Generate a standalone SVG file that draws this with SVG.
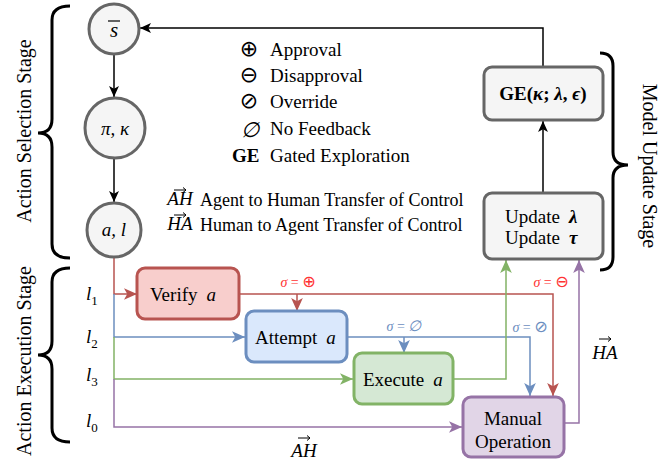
<svg xmlns="http://www.w3.org/2000/svg" width="672" height="465" viewBox="0 0 672 465" font-family="'Liberation Serif','Times New Roman',serif">
<style>
text{font-family:"Liberation Serif","Times New Roman",serif;fill:#000}
.t19{font-size:19px}
.t18{font-size:18px}
.it{font-style:italic}
.bd{font-weight:bold}
.sym{font-family:"DejaVu Sans",sans-serif;font-size:22px}
.node{fill:#f5f5f5;stroke:#666;stroke-width:3}
.ln{fill:none;stroke-width:1.5}
.k{stroke:#000}
.r{stroke:#b85450}
.b{stroke:#6c8ebf}
.g{stroke:#82b366}
.p{stroke:#9673a6}
.brace{fill:none;stroke:#000;stroke-width:3}
.sig{font-size:14px;font-style:italic}
.ss{font-style:normal;font-family:"DejaVu Sans",sans-serif;font-size:16px}
.vec{fill:none;stroke:#000;stroke-width:1}
</style>
<defs>
<marker id="mk" viewBox="0 0 10 10" refX="10" refY="5" markerWidth="11" markerHeight="11" orient="auto" markerUnits="userSpaceOnUse"><path d="M0,0.5 L10,5 L0,9.5 L2.5,5 z" fill="#000"/></marker>
<marker id="mr" viewBox="0 0 10 10" refX="10" refY="5" markerWidth="13" markerHeight="13" orient="auto" markerUnits="userSpaceOnUse"><path d="M0,0.5 L10,5 L0,9.5 L2.5,5 z" fill="#b85450"/></marker>
<marker id="mb" viewBox="0 0 10 10" refX="10" refY="5" markerWidth="13" markerHeight="13" orient="auto" markerUnits="userSpaceOnUse"><path d="M0,0.5 L10,5 L0,9.5 L2.5,5 z" fill="#6c8ebf"/></marker>
<marker id="mg" viewBox="0 0 10 10" refX="10" refY="5" markerWidth="13" markerHeight="13" orient="auto" markerUnits="userSpaceOnUse"><path d="M0,0.5 L10,5 L0,9.5 L2.5,5 z" fill="#82b366"/></marker>
<marker id="mp" viewBox="0 0 10 10" refX="10" refY="5" markerWidth="13" markerHeight="13" orient="auto" markerUnits="userSpaceOnUse"><path d="M0,0.5 L10,5 L0,9.5 L2.5,5 z" fill="#9673a6"/></marker>
</defs>

<!-- braces and stage labels -->
<path class="brace" d="M70,6 Q52,6 52,20 V119 Q52,133 38,133 Q52,133 52,147 V244 Q52,258 70,258"/>
<path class="brace" d="M70,268 Q52,268 52,282 V341 Q52,355 38,355 Q52,355 52,369 V428 Q52,442 70,442"/>
<path class="brace" d="M600,53 Q613,53 613,66 V152 Q613,165 628,165 Q613,165 613,178 V257 Q613,270 600,270"/>
<text style="font-size:20px" text-anchor="middle" transform="translate(31,131) rotate(-90)">Action Selection Stage</text>
<text style="font-size:20px" text-anchor="middle" transform="translate(31,361) rotate(-90)">Action Execution Stage</text>
<text style="font-size:20px" text-anchor="middle" transform="translate(643,166) rotate(90)">Model Update Stage</text>

<!-- connectors -->
<g id="connectors">
<path class="ln k" d="M114,54 V97" marker-end="url(#mk)"/>
<path class="ln k" d="M114,158 V202" marker-end="url(#mk)"/>
<path class="ln k" d="M543,193 V121" marker-end="url(#mk)"/>
<path class="ln k" d="M543,67 V28 H140" marker-end="url(#mk)"/>
<path class="ln r" d="M114,257 V294 H137" marker-end="url(#mr)"/>
<path class="ln b" d="M114,294 V337 H245" marker-end="url(#mb)"/>
<path class="ln g" d="M114,337 V379 H353" marker-end="url(#mg)"/>
<path class="ln p" d="M114,379 V427 H462" marker-end="url(#mp)"/>
<path class="ln r" d="M239,294 H553 V396" marker-end="url(#mr)"/>
<path class="ln r" d="M297,294 V311" marker-end="url(#mr)"/>
<path class="ln b" d="M347,337 H530 V396" marker-end="url(#mb)"/>
<path class="ln b" d="M404,337 V353" marker-end="url(#mb)"/>
<path class="ln g" d="M453,379 H506 V260" marker-end="url(#mg)"/>
<path class="ln p" d="M564,423 H579 V260" marker-end="url(#mp)"/>
<text class="sig" x="298" y="287" text-anchor="middle" style="fill:#ff3333">σ <tspan style="font-style:normal">=</tspan> <tspan class="ss" style="fill:#ff3333">⊕</tspan></text>
<text class="sig" x="551" y="287" text-anchor="middle" style="fill:#ff3333">σ <tspan style="font-style:normal">=</tspan> <tspan class="ss" style="fill:#ff3333">⊖</tspan></text>
<text class="sig" x="404" y="331" text-anchor="middle" style="fill:#6c8ebf">σ <tspan style="font-style:normal">=</tspan> <tspan style="font-size:15px">∅</tspan></text>
<text class="sig" x="530" y="332" text-anchor="middle" style="fill:#6c8ebf">σ <tspan style="font-style:normal">=</tspan> <tspan class="ss" style="fill:#6c8ebf">⊘</tspan></text>
<path class="vec" d="M298,438 H310 M307,435.5 L310,438 L307,440.5"/>
<text class="t19 it" x="304" y="457" text-anchor="middle">AH</text>
<path class="vec" d="M599,339 H611 M608,336.5 L611,339 L608,341.5"/>
<text class="t19 it" x="605" y="359" text-anchor="middle">HA</text>
</g>

<!-- nodes -->
<g id="node-s">
<circle class="node" cx="114" cy="29" r="25"/>
<text class="t19 it" x="114" y="37" text-anchor="middle" style="font-size:21px">s</text>
<line x1="108" y1="21" x2="120" y2="21" stroke="#000" stroke-width="1.2"/>
</g>
<g id="node-pi">
<circle class="node" cx="115" cy="128" r="30"/>
<text class="t19 it" x="115" y="135" text-anchor="middle">π, κ</text>
</g>
<g id="node-al">
<circle class="node" cx="114" cy="230" r="27"/>
<text class="t19 it" x="114" y="236" text-anchor="middle">a, l</text>
</g>
<g id="node-verify">
<rect x="137" y="268" width="102" height="51" rx="8" fill="#f8cecc" stroke="#b85450" stroke-width="3"/>
<text class="t19" x="150" y="301">Verify<tspan class="it" dx="9">a</tspan></text>
</g>
<g id="node-attempt">
<rect x="246" y="311" width="101" height="51" rx="8" fill="#dae8fc" stroke="#6c8ebf" stroke-width="3"/>
<text class="t19" x="255" y="344">Attempt<tspan class="it" dx="9">a</tspan></text>
</g>
<g id="node-execute">
<rect x="354" y="353" width="99" height="51" rx="8" fill="#d5e8d4" stroke="#82b366" stroke-width="3"/>
<text class="t19" x="363" y="386">Execute<tspan class="it" dx="9">a</tspan></text>
</g>
<g id="node-manual">
<rect x="463" y="397" width="101" height="60" rx="8" fill="#e1d5e7" stroke="#9673a6" stroke-width="3"/>
<text class="t19" x="513" y="425" text-anchor="middle">Manual</text>
<text class="t19" x="513" y="448" text-anchor="middle">Operation</text>
</g>
<g id="node-update">
<rect x="484" y="193" width="119" height="66" rx="8" class="node"/>
<text class="t19" x="505" y="223">Update<tspan class="it bd" dx="9">λ</tspan></text>
<text class="t19" x="505" y="244">Update<tspan class="it bd" dx="9">τ</tspan></text>
</g>
<g id="node-ge">
<rect x="484" y="67" width="119" height="53" rx="8" class="node"/>
<text class="t19 bd" x="543" y="100" text-anchor="middle">GE(<tspan class="it">κ</tspan>; <tspan class="it">λ</tspan>, <tspan class="it">ϵ</tspan>)</text>
</g>

<!-- legend -->
<g id="legend">
<text class="sym" x="249" y="56" text-anchor="middle">⊕</text>
<text class="t19" x="270" y="56">Approval</text>
<text class="sym" x="249" y="82" text-anchor="middle">⊖</text>
<text class="t19" x="270" y="82">Disapproval</text>
<text class="sym" x="249" y="108" text-anchor="middle">⊘</text>
<text class="t19" x="270" y="108">Override</text>
<text class="it" x="250" y="137" text-anchor="middle" style="font-size:21px">∅</text>
<text class="t19" x="270" y="135">No Feedback</text>
<text class="t19 bd" x="232" y="162">GE</text>
<text class="t19" x="270" y="162">Gated Exploration</text>
<path class="vec" d="M174,190 H186 M183,187.5 L186,190 L183,192.5"/>
<text class="t19 it" x="180" y="205" text-anchor="middle">AH</text>
<text class="t18" x="200" y="206">Agent to Human Transfer of Control</text>
<path class="vec" d="M174,215 H186 M183,212.5 L186,215 L183,217.5"/>
<text class="t19 it" x="180" y="230" text-anchor="middle">HA</text>
<text class="t18" x="200" y="231">Human to Agent Transfer of Control</text>
</g>

<!-- lane labels -->
<g id="lanes">
<text class="t19 it" x="86" y="300">l<tspan style="font-style:normal;font-size:13px" dy="5">1</tspan></text>
<text class="t19 it" x="86" y="343">l<tspan style="font-style:normal;font-size:13px" dy="5">2</tspan></text>
<text class="t19 it" x="86" y="381">l<tspan style="font-style:normal;font-size:13px" dy="5">3</tspan></text>
<text class="t19 it" x="86" y="427">l<tspan style="font-style:normal;font-size:13px" dy="5">0</tspan></text>
</g>
</svg>
